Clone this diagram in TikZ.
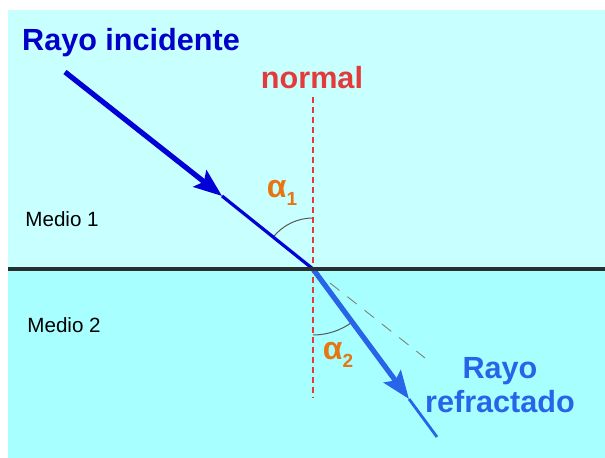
\documentclass[tikz,border=0pt]{standalone}
\usepackage{fontspec}
\setmainfont{Liberation Sans}
\usepackage{tikz}
\usetikzlibrary{arrows.meta, calc}
\definecolor{upperblue}{RGB}{200,255,255}
\definecolor{lowerblue}{RGB}{168,255,255}
\definecolor{incblue}{RGB}{0,0,215}
\definecolor{titleblue}{RGB}{0,0,200}
\definecolor{refblue}{RGB}{40,100,232}
\definecolor{normalred}{RGB}{228,58,58}
\definecolor{anglorange}{RGB}{230,118,20}
\definecolor{interface}{RGB}{40,48,48}

\begin{document}
\begin{tikzpicture}[
  x=0.5pt, y=0.5pt,
  every node/.style={font=\fontsize{15.3}{18}\selectfont\bfseries},
  medio/.style={font=\fontsize{10.3}{12}\selectfont, anchor=west, inner sep=0pt},
  angle/.style={font=\fontsize{16}{18}\selectfont\bfseries, text=anglorange, inner sep=0pt},
  ray/.style={line width=2.6pt, -{Stealth[length=14pt, width=10.5pt, inset=2.5pt]}}
]
  \useasboundingbox (0,0) rectangle (605,458);
  % media
  \fill[upperblue] (8,189) rectangle (605,448);
  \fill[lowerblue] (8,0) rectangle (605,189);

  \coordinate (O) at (313,189);
  \coordinate (A) at (65,386);
  \coordinate (T1) at (222,262);
  \coordinate (T2) at (409,59);
  \coordinate (B) at (437,21);
  \coordinate (D1) at (330,175);
  \coordinate (D2) at (425,100);
  \coordinate (N1) at (313,361);
  \coordinate (N2) at (313,60);
  \coordinate (L) at (8,189);
  \coordinate (R) at (605,189);

  % normal and extension
  \draw[normalred, line width=1pt, dash pattern=on 3pt off 2pt] (N1) -- (N2);
  \draw[gray, line width=0.45pt, dash pattern=on 6pt off 5pt] (D1) -- (D2);

  % angles
  \draw[gray!70!black, line width=0.5pt] ($(O)+(90:51)$) arc[start angle=90, end angle=141.5, radius=51];
  \draw[gray!70!black, line width=0.5pt] ($(O)+(-90:66)$) arc[start angle=-90, end angle=-53.6, radius=66];

  % rays
  \draw[ray, incblue] (A) -- (T1);
  \draw[incblue, line width=1.6pt] (T1) -- (O);
  \draw[ray, refblue] (O) -- (T2);
  \draw[refblue, line width=1.4pt] (T2) -- (B);

  % interface
  \draw[interface, line width=2pt] (L) -- (R);

  \node[text=titleblue] (inc) at (131,415) {Rayo incidente};
  \node[text=normalred] (nor) at (312,380) {normal};
  \node[text=refblue, align=center] (refr) at (500,73) {Rayo\\[-1pt]refractado};
  \node[medio] (m1) at (25,239) {Medio 1};
  \node[medio] (m2) at (27,133) {Medio 2};
  \node[angle] (a1) at (282,265) {α\raisebox{-4pt}{\fontsize{9.5}{10}\selectfont 1}};
  \node[angle] (a2) at (338,103) {α\raisebox{-4pt}{\fontsize{9.5}{10}\selectfont 2}};
\end{tikzpicture}
\end{document}
